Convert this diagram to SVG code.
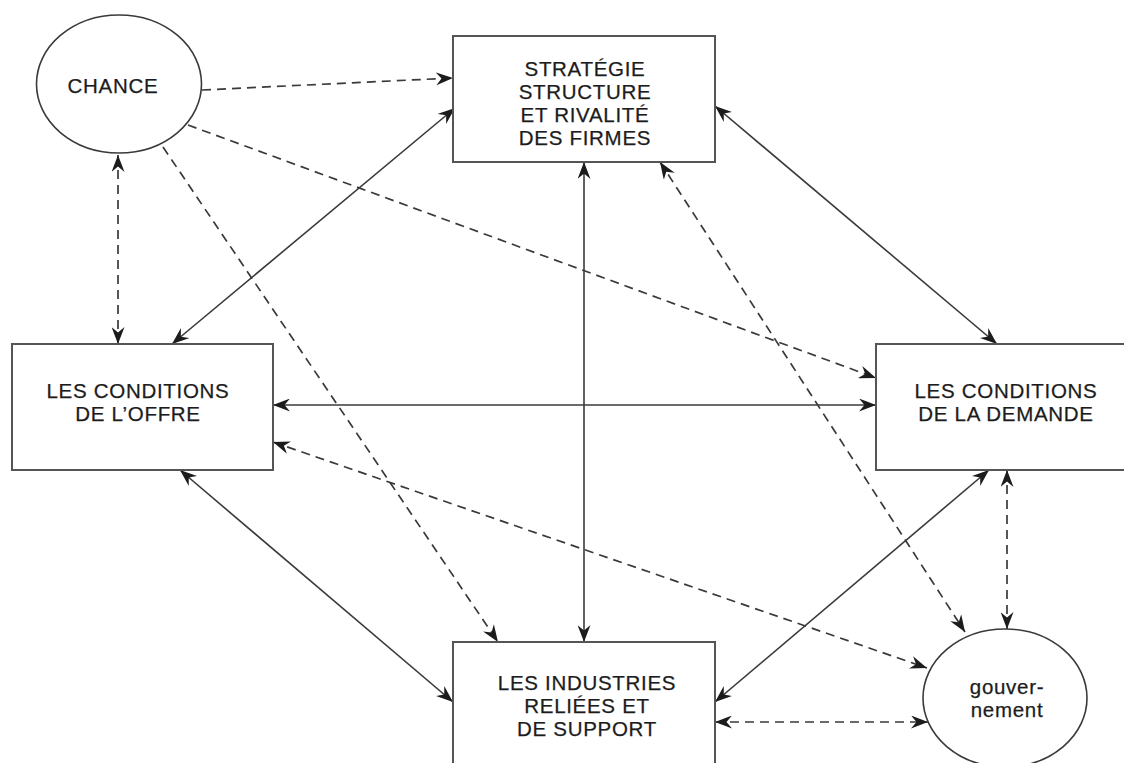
<svg xmlns="http://www.w3.org/2000/svg" width="1124" height="763" viewBox="0 0 1124 763">
  <style>
    .box { fill: #fff; stroke: #555; stroke-width: 2; }
    .oval { fill: #fff; stroke: #3a3a3a; stroke-width: 1.6; }
    .lbl { font-family: "Liberation Sans", Arial, Helvetica, sans-serif; font-size: 20.5px; letter-spacing: 0.7px; fill: #1c1c1c; stroke: #1c1c1c; stroke-width: 0.25; text-anchor: middle; }
    .solid { fill: none; stroke: #3a3a3a; stroke-width: 1.6; }
    .dash { fill: none; stroke: #3a3a3a; stroke-width: 1.7; stroke-dasharray: 9 6; }
    .one { marker-end: url(#head); }
    .two { marker-start: url(#head); marker-end: url(#head); }
  </style>
  <defs>
    <marker id="head" viewBox="0 0 17 13" refX="17" refY="6.5" markerWidth="17" markerHeight="13" markerUnits="userSpaceOnUse" orient="auto-start-reverse">
      <path d="M0,0 L17,6.5 L0,13 L5.5,6.5 Z" fill="#1c1c1c"/>
    </marker>
  </defs>

  <rect width="1124" height="763" fill="#fff"/>

  <!-- connectors -->
  <g id="connectors">
    <line class="dash one" x1="202" y1="90" x2="453" y2="78"/>
    <line class="dash two" x1="118" y1="155" x2="118" y2="344"/>
    <line class="solid two" x1="455" y1="108" x2="172" y2="344"/>
    <line class="dash one" x1="188" y1="125" x2="876" y2="378"/>
    <line class="dash one" x1="163" y1="147" x2="498" y2="642"/>
    <line class="solid two" x1="584" y1="162" x2="584" y2="642"/>
    <line class="solid two" x1="715" y1="106" x2="997" y2="344"/>
    <line class="dash two" x1="660" y1="162" x2="965" y2="632"/>
    <line class="solid two" x1="273" y1="405" x2="876" y2="405"/>
    <line class="dash two" x1="273" y1="442" x2="927" y2="668"/>
    <line class="solid two" x1="180" y1="470" x2="453" y2="702"/>
    <line class="solid two" x1="989" y1="470" x2="715" y2="702"/>
    <line class="dash two" x1="1007" y1="470" x2="1007" y2="629"/>
    <line class="dash two" x1="715" y1="722" x2="928" y2="722"/>
  </g>

  <g id="chance">
    <ellipse class="oval" cx="119" cy="84" rx="82.5" ry="69"/>
    <text class="lbl" x="113" y="93">CHANCE</text>
  </g>

  <g id="strategie">
    <rect class="box" x="453" y="36" width="262" height="126"/>
    <text class="lbl" x="585" y="76">STRATÉGIE</text>
    <text class="lbl" x="585" y="99">STRUCTURE</text>
    <text class="lbl" x="585" y="122">ET RIVALITÉ</text>
    <text class="lbl" x="585" y="145">DES FIRMES</text>
  </g>

  <g id="offre">
    <rect class="box" x="12" y="344" width="261" height="126"/>
    <text class="lbl" x="138" y="398">LES CONDITIONS</text>
    <text class="lbl" x="138" y="421">DE L’OFFRE</text>
  </g>

  <g id="demande">
    <rect class="box" x="876" y="344" width="262" height="126"/>
    <text class="lbl" x="1006" y="398">LES CONDITIONS</text>
    <text class="lbl" x="1006" y="421">DE LA DEMANDE</text>
  </g>

  <g id="industries">
    <rect class="box" x="453" y="642" width="262" height="140"/>
    <text class="lbl" x="587" y="690">LES INDUSTRIES</text>
    <text class="lbl" x="587" y="713">RELIÉES ET</text>
    <text class="lbl" x="587" y="736">DE SUPPORT</text>
  </g>

  <g id="gouvernement">
    <ellipse class="oval" cx="1005" cy="698" rx="82" ry="69"/>
    <text class="lbl" x="1007" y="694">gouver-</text>
    <text class="lbl" x="1007" y="717">nement</text>
  </g>
</svg>
